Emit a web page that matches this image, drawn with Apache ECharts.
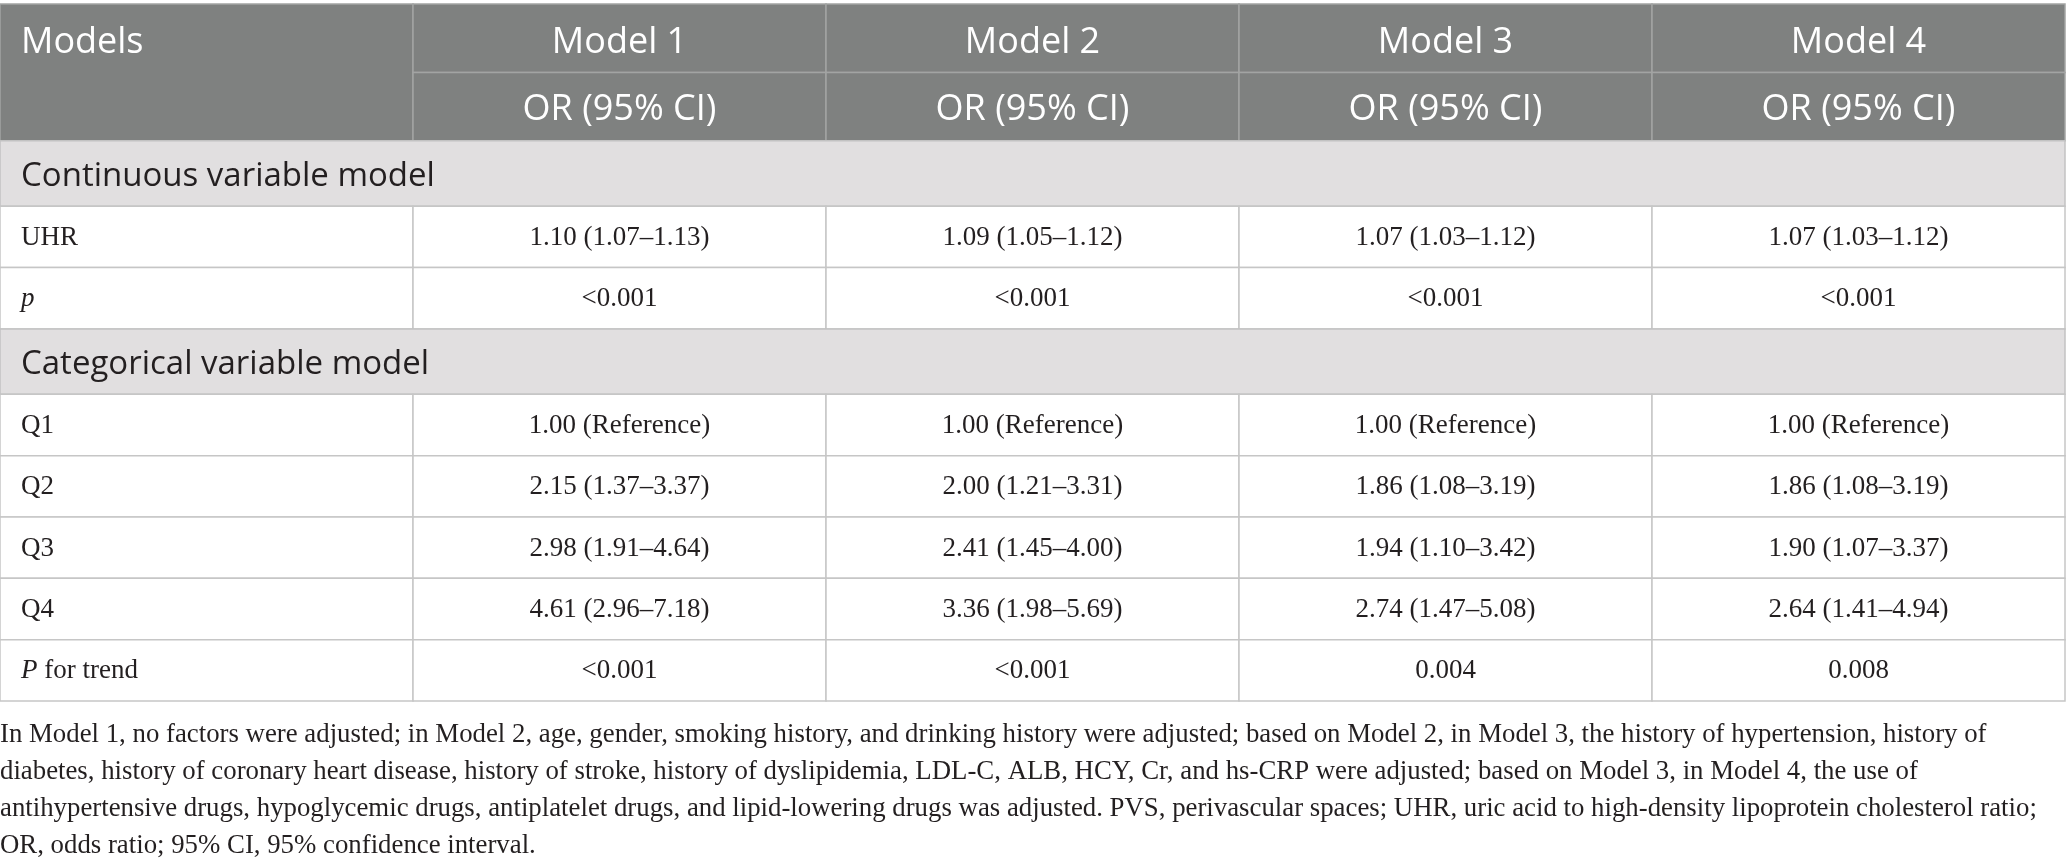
<!DOCTYPE html>
<html>
<head>
<meta charset="utf-8">
<script src="https://cdn.jsdelivr.net/npm/echarts@6/dist/echarts.min.js"></script>
<style>
    html, body { margin: 0; padding: 0; background: #fff; }
    #main { width: 2067px; height: 866px; }
</style>
</head>
<body>
<div id="main"></div>
<script>
// table content
var headerLabel = 'Models';
var models = ['Model 1', 'Model 2', 'Model 3', 'Model 4'];
var ciLabel = 'OR (95% CI)';
var sections = ['Continuous variable model', 'Categorical variable model'];

var uhrLabel = 'UHR';
var uhrValues = ['1.10 (1.07\u20131.13)', '1.09 (1.05\u20131.12)', '1.07 (1.03\u20131.12)', '1.07 (1.03\u20131.12)'];
var uhrP = ['<0.001', '<0.001', '<0.001', '<0.001'];

var quartiles = ['Q1', 'Q2', 'Q3', 'Q4'];
var q1Values = ['1.00 (Reference)', '1.00 (Reference)', '1.00 (Reference)', '1.00 (Reference)'];
var q2Values = ['2.15 (1.37\u20133.37)', '2.00 (1.21\u20133.31)', '1.86 (1.08\u20133.19)', '1.86 (1.08\u20133.19)'];
var q3Values = ['2.98 (1.91\u20134.64)', '2.41 (1.45\u20134.00)', '1.94 (1.10\u20133.42)', '1.90 (1.07\u20133.37)'];
var q4Values = ['4.61 (2.96\u20137.18)', '3.36 (1.98\u20135.69)', '2.74 (1.47\u20135.08)', '2.64 (1.41\u20134.94)'];
var pTrend = ['<0.001', '<0.001', '0.004', '0.008'];

var footnote = [
    'In Model 1, no factors were adjusted; in Model 2, age, gender, smoking history, and drinking history were adjusted; based on Model 2, in Model 3, the history of hypertension, history of',
    'diabetes, history of coronary heart disease, history of stroke, history of dyslipidemia, LDL-C, ALB, HCY, Cr, and hs-CRP were adjusted; based on Model 3, in Model 4, the use of',
    'antihypertensive drugs, hypoglycemic drugs, antiplatelet drugs, and lipid-lowering drugs was adjusted. PVS, perivascular spaces; UHR, uric acid to high-density lipoprotein cholesterol ratio;',
    'OR, odds ratio; 95% CI, 95% confidence interval.'
];

// row heights per row kind (layout)
var rowHeight = {header: 68.5, section: 65.5, body: 61.4};
var sansFont = '"Open Sans", "Noto Sans", sans-serif';
var serifFont = '"Liberation Serif", "DejaVu Serif", serif';

// build rows: kind + cells
var rows = [];
rows.push({kind: 'header', cells: [''].concat(models)});
rows.push({kind: 'header', cells: [''].concat(models.map(function () { return ciLabel; }))});
rows.push({kind: 'section', cells: [sections[0]]});
rows.push({kind: 'body', cells: [uhrLabel].concat(uhrValues)});
rows.push({kind: 'body', cells: ['{i|p}'].concat(uhrP)});
rows.push({kind: 'section', cells: [sections[1]]});
[q1Values, q2Values, q3Values, q4Values].forEach(function (vals, i) {
    rows.push({kind: 'body', cells: [quartiles[i]].concat(vals)});
});
rows.push({kind: 'body', cells: ['{i|P} for trend'].concat(pTrend)});

// row boundaries
var rowTop = [0];
rows.forEach(function (r, i) {
    rowTop.push(rowTop[i] + rowHeight[r.kind]);
});
var totalHeight = rowTop[rowTop.length - 1];

// cells: [c0, c1, yTop, yBottom]
var cells = [];
var cellInfo = [];
rows.forEach(function (r, ri) {
    if (r.kind === 'section') {
        cells.push([0, 5, rowTop[ri], rowTop[ri + 1]]);
        cellInfo.push({kind: 'section', text: r.cells[0], align: 'left'});
        return;
    }
    r.cells.forEach(function (t, ci) {
        if (r.kind === 'header' && ci === 0) {
            if (ri === 0) {
                // "Models" spans both header rows
                cells.push([0, 1, rowTop[0], rowTop[2]]);
                cellInfo.push({kind: 'header', text: headerLabel, align: 'left', topRow: rowTop[0], rowBottom: rowTop[1]});
            }
            return;
        }
        cells.push([ci, ci + 1, rowTop[ri], rowTop[ri + 1]]);
        cellInfo.push({kind: r.kind, text: t, align: ci === 0 ? 'left' : 'center', row: ri});
    });
});

function renderCell(params, api) {
    var info = cellInfo[params.dataIndex];
    var p0 = api.coord([api.value(0), api.value(2)]);
    var p1 = api.coord([api.value(1), api.value(3)]);
    var x = p0[0], y = p0[1], w = p1[0] - p0[0], h = p1[1] - p0[1];
    var fill = '#ffffff', stroke = '#c6c6c6', color = '#231f20';
    var font = {fontFamily: serifFont, fontSize: 27};
    var dy = 1;
    if (info.kind === 'header') {
        fill = '#7f8180';
        stroke = '#a2a4a3';
        color = '#ffffff';
        font = {fontFamily: sansFont, fontSize: 36};
        dy = info.row === 1 ? 3 : 5;
    } else if (info.kind === 'section') {
        fill = '#e1dfe0';
        stroke = '#c2c2c2';
        font = {fontFamily: sansFont, fontSize: 33};
        dy = 3;
    }
    var ty = y + h / 2;
    if (info.rowBottom !== undefined) {
        // spanning header label sits in the first header row
        ty = api.coord([0, (info.topRow + info.rowBottom) / 2])[1];
    }
    return {
        type: 'group',
        children: [
            {
                type: 'rect',
                shape: {x: x, y: y, width: w, height: h},
                style: {fill: fill, stroke: stroke, lineWidth: 1.5}
            },
            {
                type: 'text',
                style: {
                    text: info.text,
                    x: info.align === 'left' ? x + 21 : x + w / 2,
                    y: ty + dy,
                    align: info.align,
                    verticalAlign: 'middle',
                    fill: color,
                    fontFamily: font.fontFamily,
                    fontSize: font.fontSize,
                    rich: {
                        i: {fontStyle: 'italic', fontFamily: font.fontFamily, fontSize: font.fontSize, fill: color}
                    }
                }
            }
        ]
    };
}

var myChart = echarts.init(document.getElementById('main'));
var option = {
    animation: false,
    grid: {left: 0, right: 2, top: 4, height: 697},
    xAxis: {type: 'value', min: 0, max: 5, show: false},
    yAxis: {type: 'value', min: 0, max: totalHeight, inverse: true, show: false},
    series: [
        {
            type: 'custom',
            clip: false,
            renderItem: renderCell,
            encode: {x: [0, 1], y: [2, 3]},
            data: cells
        }
    ],
    graphic: [
        {
            type: 'text',
            left: 0,
            top: 716,
            style: {
                text: footnote.join('\n'),
                fill: '#231f20',
                fontFamily: serifFont,
                fontSize: 26.8,
                lineHeight: 37
            }
        }
    ]
};
myChart.setOption(option);
</script>
</body>
</html>
